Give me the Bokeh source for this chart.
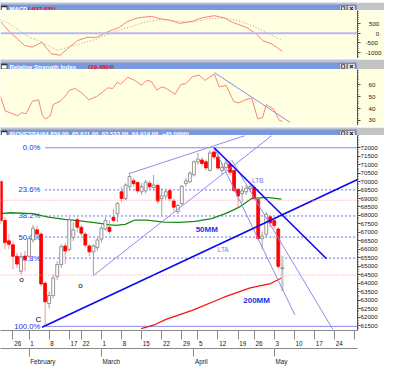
from bokeh.plotting import figure
from bokeh.layouts import column
from bokeh.models import FixedTicker, LinearAxis, Range1d, Span
from bokeh.embed import file_html
from bokeh.resources import INLINE
from bokeh.core.properties import value

# ---------------- data ----------------
idx = list(range(-3, 68))
opens = [70000, 67700, 66500, 66270, 65590, 64700, 65600, 65590, 66550, 67150,
         66900, 64000, 62800, 63270, 64400, 65100, 66200, 66000, 66700, 67750,
         67300, 66900, 66200, 65850, 66100, 66600, 67200, 67300, 67900, 68100,
         69400, 69000, 69700, 70050, 69950, 69400, 69450, 69900, 69650, 69780,
         69000, 69150, 69470, 68850, 68230, 68700, 69880, 69990, 70400, 71170,
         71280, 71170, 70660, 71750, 71450, 70660, 70830, 71020, 70660, 69550,
         69300, 69400, 69600, 69650, 68950, 66630, 66890, 67920, 67700, 67200, 64859]
highs = [70150, 67900, 66900, 66500, 65800, 65800, 65900, 66800, 67450, 67400,
         67000, 64100, 63500, 64500, 65300, 66300, 66400, 67900, 67600, 67900,
         67450, 67000, 66300, 66300, 66700, 67400, 67900, 67700, 68400, 68800,
         69700, 69900, 70520, 70200, 70000, 69900, 70100, 70050, 70400, 69900,
         69600, 69600, 69600, 69000, 68700, 69800, 70200, 70600, 71250, 71700,
         71450, 71300, 71850, 72000, 71750, 71100, 71300, 71200, 70700, 69600,
         69750, 69800, 69900, 69800, 69000, 67050, 68200, 68000, 67750, 67300, 65611]
lows = [67500, 66000, 66000, 64820, 64900, 64500, 64700, 65500, 66400, 66800,
        63800, 61450, 62500, 63100, 64200, 64900, 65130, 65900, 66500, 67000,
        66800, 66100, 65600, 64460, 65900, 66400, 67100, 66900, 67600, 67600,
        68800, 68900, 69500, 69700, 69300, 69200, 69300, 69500, 69500, 68700,
        67990, 68900, 68800, 68230, 68070, 68600, 69700, 69900, 70300, 71000,
        70900, 70650, 70600, 71300, 70700, 70400, 70700, 70400, 69400, 68490,
        68750, 69200, 69400, 68900, 66500, 66000, 66700, 67300, 67200, 64850, 63533]
closes = [67700, 66400, 66300, 65590, 65130, 65550, 65400, 66630, 67250, 66900,
          63950, 62900, 63270, 64300, 65100, 66160, 65900, 67750, 67150, 67300,
          66950, 66250, 65850, 66200, 66550, 67250, 67700, 67050, 67700, 68700,
          69000, 69800, 70300, 69880, 69450, 69700, 69970, 69700, 69800, 68850,
          69150, 69400, 69000, 68490, 68590, 69730, 70040, 70500, 71170, 71330,
          71070, 70810, 71690, 71450, 70800, 70830, 71090, 70550, 69470, 69150,
          69450, 69620, 69700, 69000, 66630, 66780, 68070, 67560, 67400, 64980, 64914]

ma50_x = [-3.1, -0.7, 4.8, 8.8, 12.9, 16.7, 20.8, 23.2, 25.5, 27.9, 30.3, 33.4,
          37.5, 41.5, 45.3, 49.4, 52.5, 54.9, 56.6, 59.4, 62.1, 63.7, 66.8]
ma50_y = [68110, 68160, 68110, 67905, 67765, 67680, 67560, 67470, 67420, 67470,
          67730, 67730, 67610, 67595, 67645, 67815, 68075, 68330, 68540, 69000,
          69055, 69055, 68970]
ma200_x = [31.9, 35.1, 38.2, 44.6, 52.5, 59.0, 64.1, 66.9]
ma200_y = [61310, 61530, 61875, 62390, 63170, 63720, 63980, 64320]

fib_anchor = 8
fib_low, fib_high = 61450, 72000
fib_pcts = [0.0, 23.6, 38.2, 50.0, 61.8, 100.0]
fib_labels = ["0.0%", "23.6%", "38.2%", "50.0%", "61.8%", "100.0%"]
support_levels = [68900, 64480]

lta_x, lta_y = [7.23, 85.6], [61395, 70105]
ltb_x, ltb_y = [50.05, 78.0], [72000, 65440]
chan_x, chan_y = [29.1, 57.8], [70487, 72723]
rise_x, rise_y = [20.05, 64.4], [64460, 72723]
fallA_x, fallA_y = [50.05, 70.1], [72000, 62135]
fallB_x, fallB_y = [54.4, 79.6], [71277, 61255]

note_text = ["50MM", "200MM"]
note_x, note_y = [48.2, 60.6], [67145, 62960]
tl_text = ["LTB", "LTA"]
tl_x, tl_y = [60.9, 52.3], [70090, 65980]
mark_text = ["o", "o", "C"]
mark_x, mark_y = [2.1, 16.8, 6.3], [64200, 63855, 61840]

macd_x = [-3.1, -1.2, 2.9, 4.8, 7.2, 9.5, 11.7, 13.6, 16, 18.4, 20.8, 23.2, 26.3,
          28.6, 31, 34.4, 36.8, 39.1, 41.5, 44.6, 47, 50.1, 52.5, 54.9, 58.2,
          60.6, 62.1, 64.4, 66.1, 67]
macd_y = [600, 150, -635, -715, -465, -1050, -1135, -800, -385, -215, -215, 35, 285,
          615, 785, 865, 735, 665, 500, 615, 785, 900, 785, 535, 285,
          -50, -385, -550, -800, -938]
sig_x = [-3.1, -0.7, 1.7, 4.1, 6.4, 8.8, 11.2, 13.6, 16.7, 20.8, 24.8, 28.6, 32.7,
         36.8, 40.6, 44.6, 48.7, 52.5, 56.6, 59.7, 63, 65.4, 67]
sig_y = [700, 450, 115, -215, -385, -635, -885, -715, -550, -300, 35, 285, 565,
         700, 615, 565, 735, 785, 615, 365, 35, -215, -385]

rsi_x = [-3.1, -1.9, -0.7, 1.2, 2.1, 3.3, 4.8, 6.4, 7.2, 8.1, 9.3, 10, 11.7, 12.9,
         14.1, 15.5, 17.2, 18.9, 20.8, 22.4, 23.6, 24.8, 26, 26.7, 28.6, 30.3, 32,
         33.2, 34.4, 35.8, 37, 38.2, 40.3, 41.8, 43, 44.6, 46.3, 47.7, 50.1, 51.3,
         53, 54.9, 56.1, 57.8, 59.4, 60.9, 62.1, 63, 64.9, 66.3, 67]
rsi_y = [50, 37.9, 36.5, 33.9, 36.5, 35.7, 46, 47.3, 35.2, 31.2, 33.9, 43.3, 46, 50,
         55.4, 56.7, 52.7, 47.3, 50, 54, 57.3, 56.7, 62.1, 60.2, 66.1, 63.5, 59.4,
         63.5, 62.7, 55.4, 58.1, 56.7, 51.9, 60.2, 60.7, 66.5, 68, 63.5, 68.8, 58.1,
         59.4, 46, 44.6, 47.3, 48.6, 31.2, 32.5, 43.3, 39.3, 29.8, 29.5]
rsi_tl_x, rsi_tl_y = [50.1, 68.9], [70, 28.5]

day_ticks = [0, 4, 9, 14, 17, 22, 27, 32, 37, 42, 46, 51, 56, 60, 65, 70, 75, 80, 85]
day_labels = ["26", "1", "8", "17", "22", "1", "8", "15", "22", "29", "5", "12",
              "19", "26", "3", "10", "17", "24", ""]
month_ticks = [4, 22, 45, 65]
month_labels = ["February", "March", "April", "May"]

price_ticks = list(range(61500, 72001, 500))
macd_ticks = [-1000, -500, 0, 500]
rsi_ticks = [30, 40, 50, 60]

# ---------------- layout / style ----------------
W = 384
FRAME_W = 357
X0, X1 = -3.1, 85.7
PPI = FRAME_W / (X1 - X0)
FONT = "Liberation Sans"
BAR = "#7898E0"
SEP = "#C3C3C3"
CREAM = "#FFFFE1"
AXC = "#505050"
TFS = 6.0

AW = {**{d: .556 for d in "0123456789"}, "F": .611, "e": .556, "b": .556, "r": .333,
      "u": .556, "a": .556, "y": .5, "M": .833, "c": .5, "h": .556, "A": .667,
      "p": .556, "i": .222, "l": .222}


def text_w(s, fs):
    return sum(AW.get(ch, .55) for ch in s) * fs


def title_bar(h, gray_h, parts):
    t = figure(width=W, height=h, x_range=Range1d(0, W), y_range=Range1d(0, h),
               min_border=0, toolbar_location=None, output_backend="svg", title=None)
    t.axis.visible = False
    t.grid.visible = False
    t.outline_line_color = None
    t.background_fill_color = SEP
    t.border_fill_color = SEP
    top = h - gray_h
    t.quad(left=0, right=W, bottom=0, top=top, fill_color=BAR, line_color=None)
    t.quad(left=0, right=W, bottom=0, top=0.6, fill_color="#5070C0", line_color=None)
    t.quad(left=1, right=7, bottom=1.5, top=top - 1.5, fill_color="white",
           line_color="#303030", line_width=0.7)
    t.quad(left=1, right=7, bottom=top - 2.7, top=top - 1.5, fill_color="#303030",
           line_color=None)
    for x, s, col in parts:
        t.text(x=[x], y=[top / 2], text=[s], text_color=col,
               text_font=value(FONT), text_font_size=f"{TFS}px", text_font_style="bold",
               text_baseline="middle", text_align="left")
    for l in (364.5, 373.5):
        t.quad(left=l, right=l + 8, bottom=1.0, top=top - 1.0, fill_color="#E4E2DC",
               line_color="#707070", line_width=0.7)
    t.scatter(x=[368.5], y=[top / 2], marker="square", size=3.5, fill_color=None,
              line_color="#202020", line_width=0.8)
    t.scatter(x=[377.5], y=[top / 2], marker="x", size=4, line_color="#202020",
              line_width=1.1)
    return t


def panel(h, yr, bg, ticks, minor, fs_standoff, overrides=None):
    p = figure(width=W, height=h, x_range=Range1d(X0, X1), y_range=Range1d(*yr),
               min_border_left=0, min_border_top=0, min_border_bottom=0,
               min_border_right=W - FRAME_W, toolbar_location=None, title=None,
               output_backend="svg", y_axis_location="right", x_axis_location=None)
    p.grid.visible = False
    p.outline_line_color = None
    p.background_fill_color = bg
    p.border_fill_color = bg
    ax = p.yaxis[0]
    ax.ticker = FixedTicker(ticks=ticks, minor_ticks=minor)
    ax.major_label_text_font = FONT
    ax.major_label_text_font_size = "6.2px"
    ax.major_label_text_color = "#202020"
    ax.major_tick_out = 3
    ax.major_tick_in = 0
    ax.minor_tick_out = 1
    ax.minor_tick_in = 0
    ax.axis_line_color = AXC
    ax.major_tick_line_color = AXC
    ax.minor_tick_line_color = AXC
    ax.major_label_standoff = fs_standoff
    if overrides:
        ax.major_label_overrides = overrides
    return p


def after(x, s):
    return x + 1.12 * text_w(s, TFS) + 2.5


# ---------------- MACD ----------------
t1 = title_bar(10, 2, [(9.6, "MACD", "white"),
                       (after(9.6, "MACD"), "(-937.935)", "#FF0000")])
pm = panel(48, (-1300, 1165), CREAM, macd_ticks, list(range(-1200, 1101, 100)), 5,
           {500: "\u2007500", 0: "\u2007\u2007\u20070", -500: "-500", -1000: "-1000"})
pm.add_layout(Span(location=0, dimension="width", line_color="#B8B8F4", line_width=2))
pm.line(sig_x, sig_y, line_color="#B09898", line_width=1, line_dash="1 2")
pm.line(macd_x, macd_y, line_color="#FF8080", line_width=1)

# ---------------- RSI ----------------
t2 = title_bar(11, 3, [(9.6, "Relative Strength Index", "white"),
                       (after(9.6, "Relative Strength Index") + 3, "(29.4804)", "#FF0000")])
pr = panel(56, (25.8, 72.6), CREAM, rsi_ticks, list(range(26, 73, 2)), 8)
pr.line(rsi_x, rsi_y, line_color="#FF8080", line_width=1)
pr.line(rsi_tl_x, rsi_tl_y, line_color="#8C8CF0", line_width=1)

# ---------------- IBOVESPA ----------------
t3 = title_bar(10, 2, [(9.6, "IBOVESPA", "white"),
                       (after(9.6, "IBOVESPA"),
                        "(64,859.00, 65,611.00, 63,533.00, 64,914.00, +45.0000)", "white")])
p = panel(232, (61205, 72723), "white", price_ticks, list(range(61300, 72701, 100)), 0)
p.min_border_bottom = 18

fib_levels = [fib_high - pc / 100.0 * (fib_high - fib_low) for pc in fib_pcts]
for pc, lv in zip(fib_pcts, fib_levels):
    if pc in (0.0, 100.0):
        p.ray(x=[fib_anchor], y=[lv], length=0, angle=0, line_color="#8888EE", line_width=1)
    else:
        p.ray(x=[fib_anchor], y=[lv], length=0, angle=0, line_color="#6A6AEE",
              line_width=1, line_dash="2 2")
p.text(x=[6.8] * len(fib_levels), y=fib_levels, text=fib_labels, text_color="#1E30E0",
       text_font=value(FONT), text_font_size="7.7px", text_align="right",
       text_baseline="middle")
for lv in support_levels:
    p.add_layout(Span(location=lv, dimension="width", line_color="#FF8C8C",
                      line_width=1, line_dash="1 2"))

p.line(ma50_x, ma50_y, line_color="#138A13", line_width=1.3)
p.line(ma200_x, ma200_y, line_color="#FF1010", line_width=1.3)

up = [c >= o for o, c in zip(opens, closes)]
wick_col = ["#A0A0A0" if u else "#FF9090" for u in up]
p.segment(x0=idx, y0=lows, x1=idx, y1=highs, line_color=wick_col, line_width=1)
p.segment(x0=idx[-1:], y0=lows[-1:], x1=idx[-1:], y1=highs[-1:], line_color="#CCCCCC",
          line_width=2.5)
tops = [max(o, c) for o, c in zip(opens, closes)]
bots = [min(o, c) for o, c in zip(opens, closes)]
p.vbar(x=idx, width=0.72, top=tops, bottom=bots,
       fill_color=["white" if u else "#FF0000" for u in up],
       line_color=["#7A7A7A" if u else "#FF0000" for u in up], line_width=0.8)

thin = "#8C8CF0"
for xs, ys in ((chan_x, chan_y), (rise_x, rise_y), (fallA_x, fallA_y), (fallB_x, fallB_y)):
    p.line(xs, ys, line_color=thin, line_width=1)
for xs, ys in ((lta_x, lta_y), (ltb_x, ltb_y)):
    p.line(xs, ys, line_color="#0A0AF0", line_width=1.6)

p.text(x=note_x, y=note_y, text=note_text, text_color="#1E30E0", text_font=value(FONT),
       text_font_size="8px", text_font_style="bold", text_align="center",
       text_baseline="middle")
p.text(x=tl_x, y=tl_y, text=tl_text, text_color="#7C7CE0", text_font=value(FONT),
       text_font_size="6.5px", text_align="center", text_baseline="middle")
p.text(x=mark_x, y=mark_y, text=mark_text, text_color="#000000", text_font=value(FONT),
       text_font_size="8px", text_align="center", text_baseline="middle")

FS_X = 6.3


def centers(ticks, labels):
    out = []
    for t, s in zip(ticks, labels):
        out.append(round(t + (1.2 + text_w(s, FS_X) / 2) / PPI, 4))
    return out


dc = [c for c, s in zip(centers(day_ticks, day_labels), day_labels) if s]
dl = [s for s in day_labels if s]
day_ax = LinearAxis(ticker=FixedTicker(ticks=dc, minor_ticks=day_ticks),
                    major_label_overrides={c: s for c, s in zip(dc, dl)})
mc = centers(month_ticks, month_labels)
mon_ax = LinearAxis(ticker=FixedTicker(ticks=mc, minor_ticks=month_ticks),
                    major_label_overrides={c: s for c, s in zip(mc, month_labels)})
for ax, tout in ((day_ax, 9), (mon_ax, 8)):
    ax.major_tick_out = 0
    ax.major_tick_in = 0
    ax.minor_tick_out = tout
    ax.minor_tick_in = 0
    ax.major_tick_line_color = None
    ax.minor_tick_line_color = "#8A8A8A"
    ax.axis_line_color = "#8A8A8A"
    ax.major_label_standoff = 1
    ax.major_label_text_font = FONT
    ax.major_label_text_font_size = f"{FS_X}px"
    ax.major_label_text_color = "#202020"
    p.add_layout(ax, "below")

layout = column(t1, pm, t2, pr, t3, p, spacing=0)
open("out.html", "w").write(file_html(layout, INLINE))
